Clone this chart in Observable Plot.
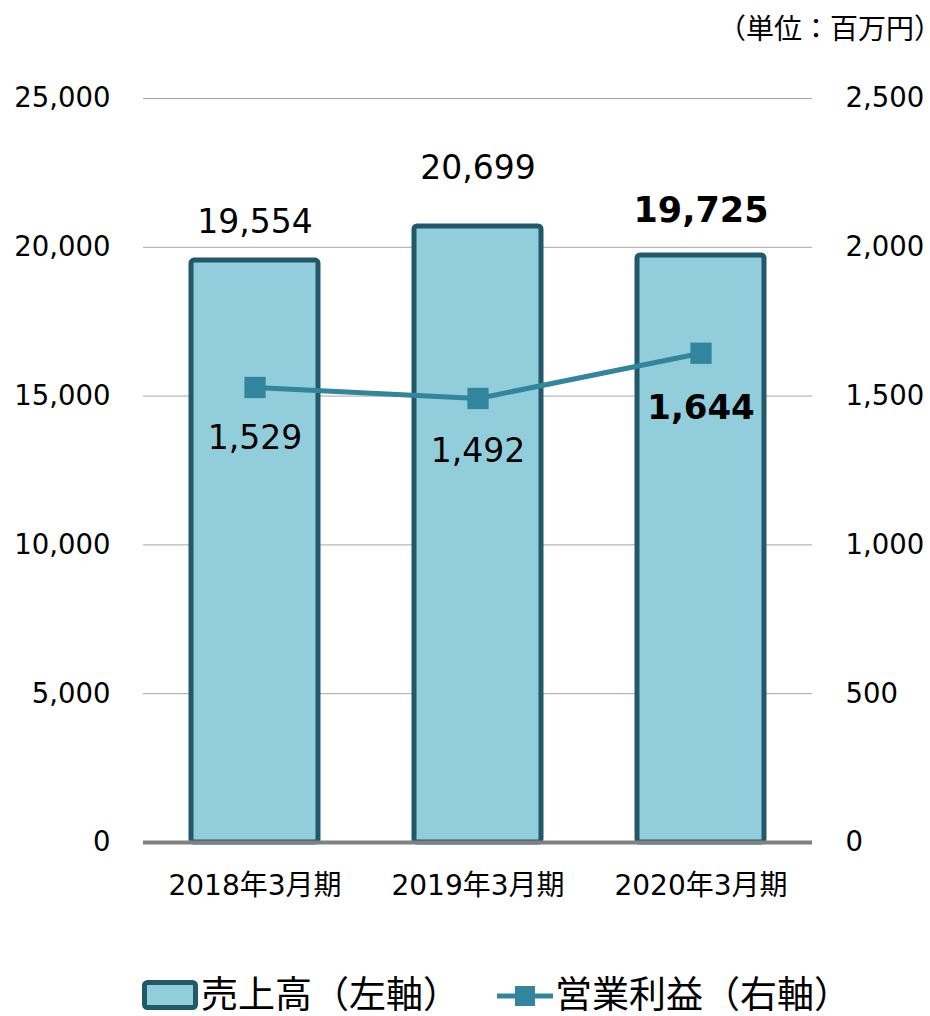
<!DOCTYPE html>
<html>
<head>
<meta charset="utf-8">
<script src="https://cdn.jsdelivr.net/npm/d3@7"></script>
<script src="https://cdn.jsdelivr.net/npm/@observablehq/plot@0.6"></script>
<style>
  html, body { margin: 0; padding: 0; background: #fff; }
  #wrap { position: relative; width: 930px; height: 1016px; font-family: "DejaVu Sans", "Noto Sans CJK JP", sans-serif; color: #000; }
  #unit { position: absolute; right: 2px; top: 10px; font-size: 28px; line-height: 40px; white-space: nowrap; }
  #unit .tail { letter-spacing: -0.5em; }
  #chart { position: absolute; left: 0; top: 0; }
  #legend { position: absolute; left: 0; top: 977px; width: 930px; height: 38px; }
  .leg { position: absolute; top: 0; height: 38px; display: flex; align-items: center; font-size: 37px; line-height: 38px; white-space: nowrap; }
</style>
</head>
<body>
<div id="wrap">
  <div id="chart"></div>
  <div id="unit">（単位：百万円<span class="tail">）</span></div>
  <div id="legend"></div>
</div>
<script>
const categories = ["2018年3月期", "2019年3月期", "2020年3月期"];
const sales = [19554, 20699, 19725];        // 売上高（左軸）
const profit = [1529, 1492, 1644];          // 営業利益（右軸）
const leftTicks = [0, 5000, 10000, 15000, 20000, 25000];
const rightTicks = [0, 500, 1000, 1500, 2000, 2500];
const seriesNames = ["売上高（左軸）", "営業利益（右軸）"];

const data = categories.map((c, i) => ({cat: c, sales: sales[i], profit: profit[i], i}));
const ratio = 25000 / 2500;
const fmt = d3.format(",");

const barFill = "#92CDDC", barStroke = "#215968", lineColor = "#31859C";
const salesDy = [-38, -58, -45];
const profitDy = [51, 53, 55];

const labelMarks = [];
data.forEach((d, i) => {
  const bold = i === data.length - 1;
  labelMarks.push(Plot.text([d], {x: "cat", y: "sales", text: v => fmt(v.sales), dy: salesDy[i],
    fontSize: bold ? 35 : 33, fontWeight: bold ? "bold" : "normal", fill: "#000"}));
  labelMarks.push(Plot.text([d], {x: "cat", y: v => v.profit * ratio, text: v => fmt(v.profit), dy: profitDy[i],
    fontSize: bold ? 34 : 33, fontWeight: bold ? "bold" : "normal", fill: "#000"}));
});

const chart = Plot.plot({
  width: 930,
  height: 930,
  marginTop: 98,
  marginBottom: 88,
  marginLeft: 143,
  marginRight: 118,
  style: {fontFamily: '"DejaVu Sans", "Noto Sans CJK JP", sans-serif', fontSize: "27px", color: "#000", background: "#fff", overflow: "visible"},
  x: {domain: categories, paddingInner: 0.43, paddingOuter: 0.215, label: null},
  y: {domain: [0, 25000], label: null},
  marks: [
    Plot.gridY(leftTicks.filter(d => d > 0), {stroke: "#a6a6a6", strokeOpacity: 1, strokeWidth: 1}),
    Plot.barY(data, {x: "cat", y: "sales", fill: barFill, stroke: barStroke, strokeWidth: 5, rx: 3}),
    Plot.ruleY([0], {stroke: "#808080", strokeWidth: 4}),
    Plot.line(data, {x: "cat", y: d => d.profit * ratio, stroke: lineColor, strokeWidth: 5}),
    Plot.dot(data, {x: "cat", y: d => d.profit * ratio, symbol: "square", r: 12, fill: lineColor, stroke: null}),
    ...labelMarks,
    Plot.axisY(leftTicks, {anchor: "left", tickFormat: fmt, tickSize: 0, tickPadding: 33, fontSize: 27.5, label: null}),
    Plot.axisY(rightTicks.map(d => d * ratio), {anchor: "right", tickFormat: d => fmt(d / ratio), tickSize: 0, tickPadding: 33, fontSize: 27.5, label: null}),
    Plot.axisX({tickSize: 0, tickPadding: 33, fontSize: 28, label: null})
  ]
});
document.getElementById("chart").appendChild(chart);

const legend = document.getElementById("legend");
legend.innerHTML = `
  <div class="leg" style="left:141px">
    <svg width="58" height="34" style="margin-right:2px"><rect x="3.5" y="3.5" width="51" height="25" rx="3" fill="${barFill}" stroke="${barStroke}" stroke-width="5"/></svg>
    <span>${seriesNames[0]}</span>
  </div>
  <div class="leg" style="left:497px">
    <svg width="58" height="34"><line x1="0" x2="56" y1="17" y2="17" stroke="${lineColor}" stroke-width="5"/><rect x="18" y="7" width="20" height="20" fill="${lineColor}"/></svg>
    <span>${seriesNames[1]}</span>
  </div>`;
</script>
</body>
</html>
